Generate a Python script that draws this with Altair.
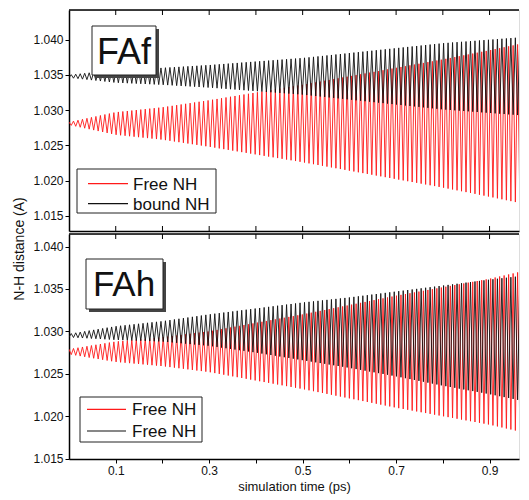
import altair as alt
import numpy as np
import pandas as pd

# ---------------- data ----------------
# envelope (upper / lower extreme of the N-H oscillation) read at these times (ps)
env_t = [0.0, 0.1, 0.2, 0.3, 0.4, 0.5, 0.6, 0.7, 0.8, 0.9, 0.98]

# panel FAf
faf_free_upper = [1.0283, 1.0297, 1.0304, 1.0314, 1.0325, 1.0336, 1.0348, 1.0360, 1.0372, 1.0385, 1.0396]
faf_free_lower = [1.0279, 1.0265, 1.0258, 1.0248, 1.0237, 1.0226, 1.0214, 1.0202, 1.0190, 1.0177, 1.0166]
faf_bound_upper = [1.0350, 1.0357, 1.0360, 1.0364, 1.0369, 1.0374, 1.0381, 1.0388, 1.0395, 1.0400, 1.0404]
faf_bound_lower = [1.0346, 1.0339, 1.0336, 1.0332, 1.0327, 1.0322, 1.0315, 1.0308, 1.0301, 1.0296, 1.0292]

# panel FAh
fah_free1_upper = [1.0279, 1.0288, 1.0293, 1.0300, 1.0310, 1.0320, 1.0331, 1.0342, 1.0352, 1.0362, 1.0372]
fah_free1_lower = [1.0273, 1.0264, 1.0259, 1.0252, 1.0242, 1.0232, 1.0221, 1.0210, 1.0200, 1.0190, 1.0180]
fah_free2_upper = [1.0297, 1.0306, 1.0312, 1.0320, 1.0327, 1.0334, 1.0340, 1.0347, 1.0354, 1.0361, 1.0366]
fah_free2_lower = [1.0293, 1.0290, 1.0288, 1.0283, 1.0275, 1.0266, 1.0257, 1.0247, 1.0236, 1.0226, 1.0217]

osc_period = 0.0096          # ps, read from peak spacing
t_end = 0.98
x_view_max = 0.963           # right edge of the visible plot (ps)

panel_labels = ["FAf", "FAh"]
top_legend = ["Free NH", "bound NH"]
bottom_legend = ["Free NH", "Free NH"]
series_colors = ["#ff1a1a", "#111111"]

x_ticks = [0.1, 0.2, 0.3, 0.4, 0.5, 0.6, 0.7, 0.8, 0.9]
y_ticks = [1.015, 1.020, 1.025, 1.030, 1.035, 1.040]
x_title = "simulation time (ps)"
y_title = "N-H distance (A)"

FONT = "Liberation Sans"
W = 450
H_TOP = 221
H_BOT = 225


def extrema(upper, lower, phase):
    tk = np.arange(0.0, t_end + 1e-9, osc_period / 2)
    up = np.interp(tk, env_t, upper)
    lo = np.interp(tk, env_t, lower)
    k = np.arange(len(tk))
    v = np.where((k + phase) % 2 == 0, up, lo)
    return pd.DataFrame({"t": tk, "v": v})


xscale = alt.Scale(domain=[0.0, x_view_max], nice=False, zero=False)

axis_common = dict(domainColor="black", domainWidth=1.5, grid=False,
                   labelFont=FONT, titleFont=FONT, labelColor="#111",
                   titleColor="#111", tickColor="black")


def one():
    return alt.Data(values=[{}])


def panel(series, y_dom, height, label, label_font, box, legend_labels, leg, bottom, show_ytitle):
    yscale = alt.Scale(domain=y_dom, nice=False, zero=False)
    ykw = dict(values=y_ticks, format=".3f", tickSize=4, labelPadding=2,
               labelFontSize=12, **axis_common)
    if show_ytitle:
        yaxis = alt.Axis(title=y_title, titleFontSize=14, titleFontWeight="normal",
                         titlePadding=6, titleY=238.5, titleAlign="center", **ykw)
    else:
        yaxis = alt.Axis(title=None, **ykw)
    if bottom:
        xaxis = alt.Axis(values=x_ticks, format=".1f", tickSize=4, labelPadding=2,
                         labelFontSize=12,
                         labelExpr="(round(datum.value*10) % 2 == 1) ? format(datum.value, '.1f') : ''",
                         title=x_title, titleFontSize=13, titleFontWeight="normal",
                         titlePadding=4, **axis_common)
    else:
        xaxis = alt.Axis(labels=False, ticks=False, title=None, **axis_common)

    layers = []
    for df, col in zip(series, series_colors):
        layers.append(
            alt.Chart(df).mark_line(color=col, strokeWidth=0.9, clip=True).encode(
                x=alt.X("t:Q", scale=xscale, axis=xaxis),
                y=alt.Y("v:Q", scale=yscale, axis=yaxis),
            )
        )
    # top frame line and inward mirror ticks
    layers.append(alt.Chart(one()).mark_rule(color="black", strokeWidth=1.5).encode(
        x=alt.value(0), x2=alt.value(W), y=alt.value(0)))
    tick_df = pd.DataFrame({"x": x_ticks})
    layers.append(alt.Chart(tick_df).mark_rule(color="black", strokeWidth=1).encode(
        x=alt.X("x:Q", scale=xscale, axis=xaxis), y=alt.value(0), y2=alt.value(5)))
    if not bottom:
        layers.append(alt.Chart(tick_df).mark_rule(color="black", strokeWidth=1).encode(
            x=alt.X("x:Q", scale=xscale, axis=xaxis), y=alt.value(height - 5), y2=alt.value(height)))

    # panel label box with shadow
    bx0, by0, bx1, by1, tx, ty = box
    layers.append(alt.Chart(one()).mark_rect(fill="#444").encode(
        x=alt.value(bx0 + 3), x2=alt.value(bx1 + 3), y=alt.value(by0 + 3), y2=alt.value(by1 + 3)))
    layers.append(alt.Chart(one()).mark_rect(fill="white", stroke="#222", strokeWidth=1).encode(
        x=alt.value(bx0), x2=alt.value(bx1), y=alt.value(by0), y2=alt.value(by1)))
    layers.append(alt.Chart(one()).mark_text(font=FONT, fontSize=label_font, align="center",
                                              baseline="alphabetic", color="#111").encode(
        x=alt.value(tx), y=alt.value(ty), text=alt.value(label)))

    # legend
    lx0, ly0, lx1, ly1, sx0, sx1, txx, rows = leg
    layers.append(alt.Chart(one()).mark_rect(fill="white", stroke="#222", strokeWidth=1).encode(
        x=alt.value(lx0), x2=alt.value(lx1), y=alt.value(ly0), y2=alt.value(ly1)))
    for lab, col, ry in zip(legend_labels, series_colors, rows):
        layers.append(alt.Chart(one()).mark_rule(color=col, strokeWidth=1.2).encode(
            x=alt.value(sx0), x2=alt.value(sx1), y=alt.value(ry)))
        layers.append(alt.Chart(one()).mark_text(font=FONT, fontSize=17, align="left",
                                                  baseline="middle", color="#111").encode(
            x=alt.value(txx), y=alt.value(ry + 1), text=alt.value(lab)))

    return alt.layer(*layers).properties(width=W, height=height)


top_series = [extrema(faf_free_upper, faf_free_lower, 0),
              extrema(faf_bound_upper, faf_bound_lower, 1)]
bot_series = [extrema(fah_free1_upper, fah_free1_lower, 0),
              extrema(fah_free2_upper, fah_free2_lower, 1)]

top = panel(top_series, [1.01283, 1.04422], H_TOP, panel_labels[0], 36,
            (23, 16, 87, 65, 55, 53.7), top_legend,
            (8, 159, 147, 203, 19, 59, 64, [173.7, 193.7]), False, True)
bot = panel(bot_series, [1.01495, 1.04148], H_BOT, panel_labels[1], 35,
            (17, 25, 94, 75, 55, 62), bottom_legend,
            (11, 163, 133, 208, 18, 57, 63, [175.3, 197]), True, False)

chart = alt.vconcat(top, bot, spacing=3, bounds="flush").properties(
    padding={"left": 4, "top": 0, "right": 0, "bottom": 0}
).configure_view(stroke=None).configure(font=FONT)

chart.save("out.html", embed_options={"renderer": "svg", "actions": False})
